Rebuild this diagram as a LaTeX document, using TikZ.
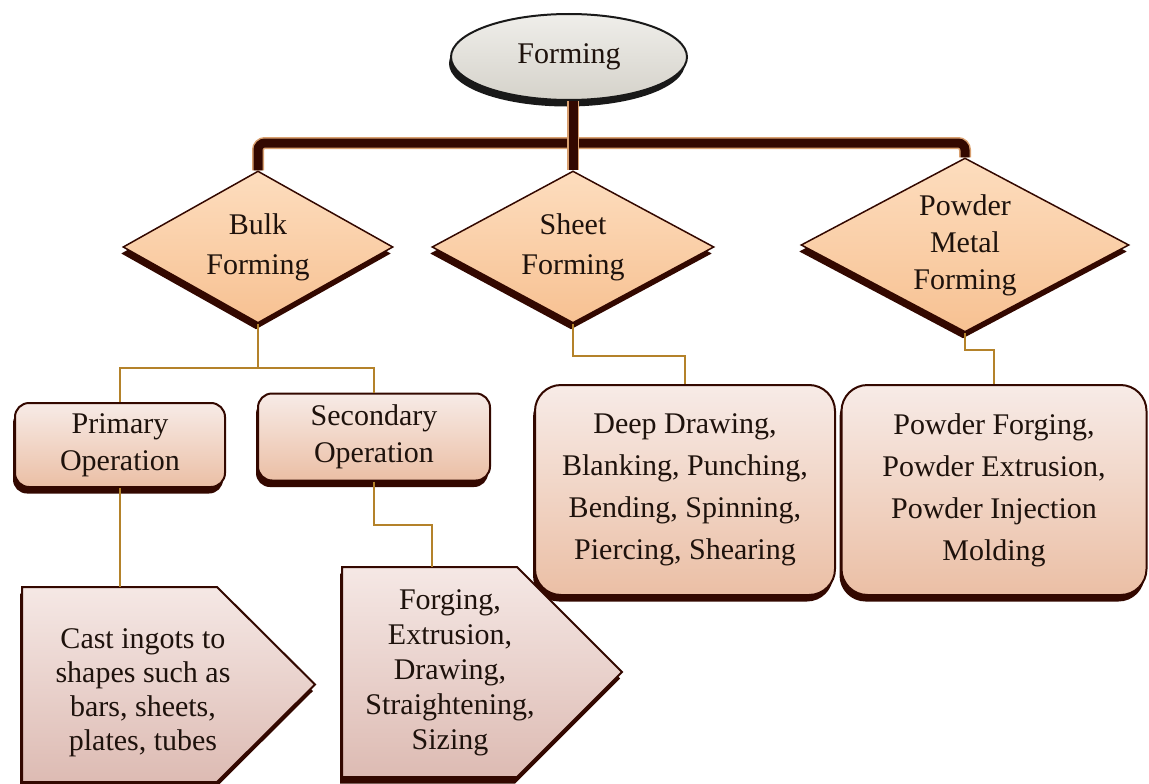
\documentclass[tikz,border=0pt]{standalone}
\usepackage{fontspec}
\setmainfont{Liberation Serif}
\usetikzlibrary{shapes.geometric,shadows,calc}
\definecolor{dkbrown}{HTML}{330800}
\definecolor{conn}{HTML}{B4822A}
\definecolor{barlight}{HTML}{D9A070}
\definecolor{boxtop}{HTML}{F7EBE7}
\definecolor{boxbot}{HTML}{EBBFA5}
\definecolor{pentop}{HTML}{F5E8E5}
\definecolor{penbot}{HTML}{DDBBB3}
\definecolor{diatop}{HTML}{FDDDBE}
\definecolor{diabot}{HTML}{F7C192}
\definecolor{elltop}{HTML}{EFEEEA}
\definecolor{ellbot}{HTML}{D5D2CA}
\definecolor{txt}{HTML}{1E120C}
\begin{document}
\begin{tikzpicture}[x=1pt,y=-1pt,
  lbl/.style={font=\fontsize{30pt}{#1}\selectfont, align=center, text=txt, inner sep=0pt},
  shd/.style={drop shadow={shadow xshift=-2pt, shadow yshift=-6.5pt, fill=#1, opacity=1}},
  ellnode/.style={ellipse, draw=black!90, line width=2pt, top color=elltop, bottom color=ellbot,
    minimum width=236pt, minimum height=86pt, inner sep=0pt, shd=black!90, lbl=36pt},
  dia/.style={diamond, draw=dkbrown, line width=1.5pt, top color=diatop, bottom color=diabot,
    inner sep=0pt, shd=dkbrown},
  rbox/.style={rectangle, draw=dkbrown, line width=2pt, top color=boxtop, bottom color=boxbot,
    inner sep=0pt, shd=dkbrown},
  pent/.style={draw=dkbrown, line width=2pt, top color=pentop, bottom color=penbot, shd=dkbrown},
  thickbar/.style={draw=dkbrown, line width=9pt, rounded corners=7pt,
    preaction={draw=barlight, line width=12pt}},
  thin/.style={draw=conn, line width=1.5pt}
]
\useasboundingbox (0,0) rectangle (1149,784);

% top ellipse
\node[ellnode] (forming) at (569,57) {Forming};

% diamonds
\node[dia, minimum width=270pt, minimum height=152pt,
  label={[lbl=40pt]center:Bulk\\Forming}] (bulk) at (258,247) {};
\node[dia, minimum width=282pt, minimum height=152pt,
  label={[lbl=40pt]center:Sheet\\Forming}] (sheet) at (573,247) {};
\node[dia, minimum width=328pt, minimum height=174pt,
  label={[lbl=37pt]center:Powder\\Metal\\Forming}] (powder) at (965,245) {};

% boxes
\node[rbox, rounded corners=14pt, minimum width=210pt, minimum height=84pt, lbl=37pt]
  (prim) at (120,445) {Primary\\Operation};
\node[rbox, rounded corners=14pt, minimum width=232pt, minimum height=87pt, lbl=37pt]
  (sec) at (374,437) {Secondary\\Operation};
\node[rbox, rounded corners=26pt, minimum width=300pt, minimum height=210pt, lbl=42pt]
  (sheetops) at (685,490) {Deep Drawing,\\Blanking, Punching,\\Bending, Spinning,\\Piercing, Shearing};
\node[rbox, rounded corners=26pt, minimum width=305pt, minimum height=210pt, lbl=42pt]
  (powderops) at (994,490) {Powder Forging,\\Powder Extrusion,\\Powder Injection\\Molding};

% pentagons
\draw[pent] (22,587) -- (217,587) -- (315,684.5) -- (217,782) -- (22,782) -- cycle;
\node[lbl=34pt] (primtext) at (143,693) {Cast ingots to\\shapes such as\\bars, sheets,\\plates, tubes};
\coordinate (primin) at (120,587);
\draw[pent] (342,567) -- (517,567) -- (622,672) -- (517,777) -- (342,777) -- cycle;
\node[lbl=35pt] (sectext) at (450,673) {Forging,\\Extrusion,\\Drawing,\\Straightening,\\Sizing};
\coordinate (secin) at (432,567);

% thick connectors
\coordinate (bary) at (0,143);
\draw[thickbar] (bulk.north) -- (bulk.north |- bary) -- (powder.north |- bary) -- (powder.north);
\draw[thickbar, rounded corners=0pt] (sheet.north |- forming.south) -- (sheet.north);

% thin connectors
\coordinate (bk) at (0,368);
\draw[thin] (bulk.south) -- (bulk.south |- bk);
\draw[thin] (prim.north) -- (prim.north |- bk) -- (sec.north |- bk) -- (sec.north);
\coordinate (sk) at (0,356);
\draw[thin] (sheet.south) -- (sheet.south |- sk) -- (sheetops.north |- sk) -- (sheetops.north);
\coordinate (pk) at (0,350);
\draw[thin] (powder.south) -- (powder.south |- pk) -- (powderops.north |- pk) -- (powderops.north);
\draw[thin] (prim.south) -- (primin);
\coordinate (sck) at (0,525);
\draw[thin] (sec.south) -- (sec.south |- sck) -- (secin |- sck) -- (secin);
\end{tikzpicture}
\end{document}
